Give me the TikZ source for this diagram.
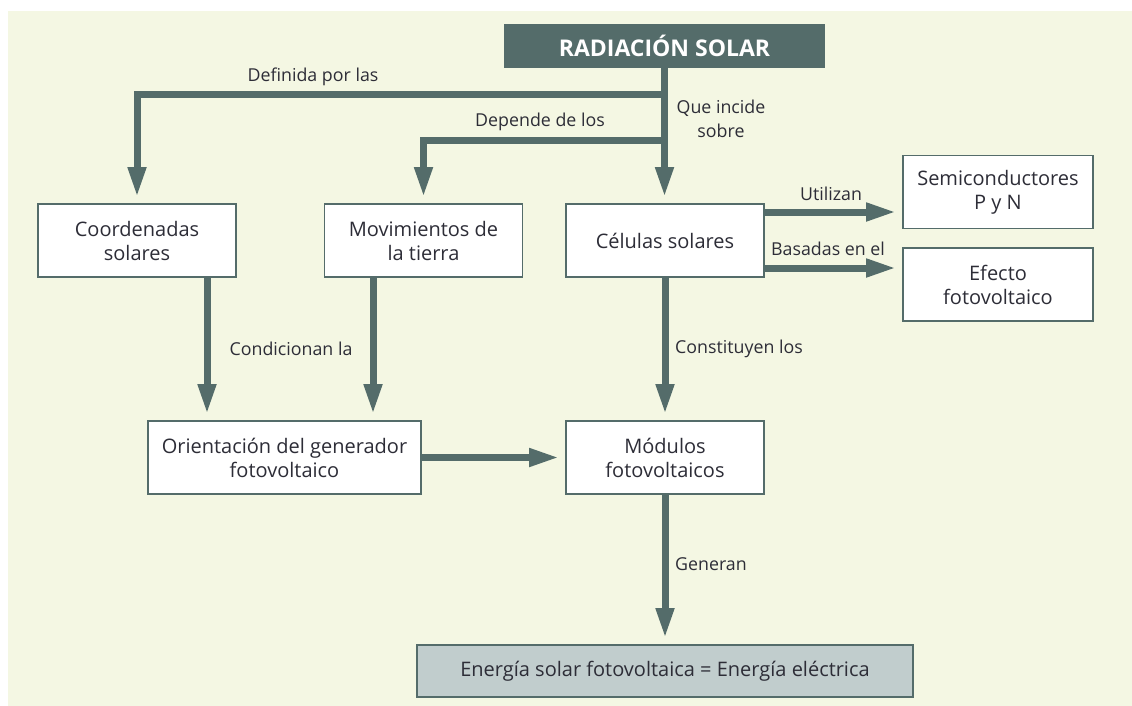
\documentclass[tikz,border=0pt]{standalone}
\usepackage{fontspec}
\setmainfont{Open Sans}
\usetikzlibrary{arrows.meta}
\definecolor{dialinecolor}{RGB}{84,108,106}
\definecolor{diabgcolor}{RGB}{244,247,227}
\definecolor{diaboxcolor}{RGB}{193,205,205}
\definecolor{diatextcolor}{RGB}{45,45,55}
\begin{document}
\begin{tikzpicture}[x=1pt,y=-1pt,
  box/.style={draw=dialinecolor,line width=1.6pt,fill=white,minimum width=198pt,minimum height=73pt,
    align=center,inner sep=0pt,text=diatextcolor,font=\fontsize{20}{24}\selectfont},
  titlebox/.style={fill=dialinecolor,minimum width=321pt,minimum height=44pt,inner sep=0pt,
    text=white,font=\fontsize{23}{27}\selectfont\bfseries},
  flow/.style={draw=dialinecolor,line width=7pt,shorten >=6pt,-{Triangle[length=30pt,width=17pt]}},
  lbl/.style={inner sep=0pt,text=diatextcolor,font=\fontsize{17.8}{24}\selectfont}]
\useasboundingbox (0,0) rectangle (1132,706);
\fill[white] (0,0) rectangle (1132,706);
\fill[diabgcolor] (8,11) rectangle (1132,706);
% nodes
\node[titlebox] (rad) at (664.5,46) {RADIACIÓN SOLAR};
\node[box] (coord) at (137,240.5) {Coordenadas\\solares};
\node[box] (mov) at (423.5,240.5) {Movimientos de\\la tierra};
\node[box] (cel) at (665,240.5) {Células solares};
\node[box,minimum width=190pt] (semi) at (998,192) {Semiconductores\\P y N};
\node[box,minimum width=190pt] (efe) at (998,284.5) {Efecto\\fotovoltaico};
\node[box,minimum width=273pt] (ori) at (284.5,457.5) {Orientación del generador\\fotovoltaico};
\node[box] (mod) at (665,457.5) {Módulos\\fotovoltaicos};
\node[box,fill=diaboxcolor,minimum width=496pt,minimum height=52pt] (ene) at (665,671) {Energía solar fotovoltaica = Energía eléctrica};
\coordinate (def) at (0,95);
\coordinate (dep) at (0,141);
\coordinate (uti) at (0,212);
\coordinate (bas) at (0,268);
\coordinate (cnd) at (207,0);
\coordinate (mvt) at (373,0);
% connectors
\draw[flow] (rad.south) -- (rad.south |- cel.north);
\draw[flow] (rad.south |- def) -| (coord.north);
\draw[flow] (rad.south |- dep) -| (mov.north);
\draw[flow] (cel.east |- uti) -- (semi.west |- uti);
\draw[flow] (cel.east |- bas) -- (efe.west |- bas);
\draw[flow] (coord.south -| cnd) -- (ori.north -| cnd);
\draw[flow] (mov.south -| mvt) -- (ori.north -| mvt);
\draw[flow] (ori) -- (mod);
\draw[flow] (cel) -- (mod);
\draw[flow] (mod) -- (ene);
% labels
\node[lbl,anchor=base] (ldef) at (313,82) {Definida por las};
\node[lbl,anchor=base] (ldep) at (540,127) {Depende de los};
\node[lbl,align=center] (lque) at (721,119) {Que incide\\sobre};
\node[lbl,anchor=base] (luti) at (831,200) {Utilizan};
\node[lbl,anchor=base] (lbas) at (828,255) {Basadas en el};
\node[lbl] (lcnd) at (291,349) {Condicionan la};
\node[lbl,anchor=west] (lcon) at (675,349) {Constituyen los};
\node[lbl,anchor=west] (lgen) at (675,564) {Generan};
\end{tikzpicture}
\end{document}
